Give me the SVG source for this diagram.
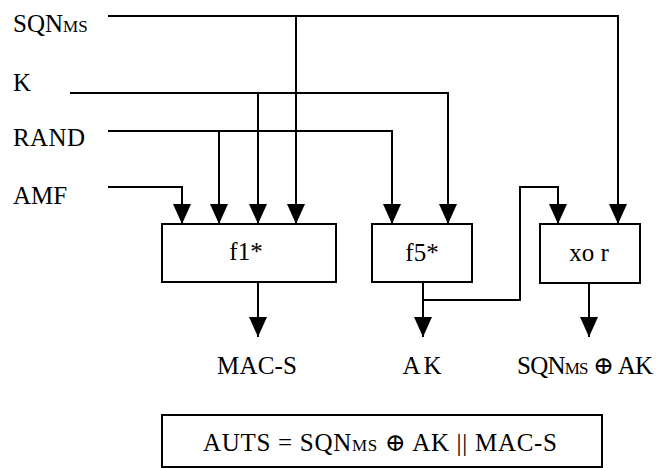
<svg xmlns="http://www.w3.org/2000/svg" width="663" height="468" viewBox="0 0 663 468">
<style>
text{font-family:"Liberation Serif","DejaVu Serif",serif;font-size:25px;fill:#000}
.sub{font-size:17px}
.box{fill:#fff;stroke:#000;stroke-width:2}
.ln{fill:none;stroke:#000;stroke-width:2}
</style>
<defs>
<marker id="ah" viewBox="0 0 20 18" refX="20" refY="9" markerWidth="20" markerHeight="18" markerUnits="userSpaceOnUse" orient="auto">
<path d="M0,0 L20,9 L0,18 z" fill="#000"/>
</marker>
</defs>
<rect width="663" height="468" fill="#fff"/>
<g id="connectors" class="ln" marker-end="url(#ah)">
<path d="M108,16 H618 V224"/>
<path d="M296,16 V224"/>
<path d="M70,93 H448 V224"/>
<path d="M258,93 V224"/>
<path d="M108,131 H392 V224"/>
<path d="M219,131 V224"/>
<path d="M108,187 H182 V224"/>
<path d="M258,283 V337"/>
<path d="M423,283 V337"/>
<path d="M423,300 H520 V187 H558 V224"/>
<path d="M589,283 V337"/>
</g>
<g id="in-sqn"><text x="13" y="32">SQN<tspan class="sub">MS</tspan></text></g>
<g id="in-k"><text x="13" y="91">K</text></g>
<g id="in-rand"><text x="13" y="146" textLength="72">RAND</text></g>
<g id="in-amf"><text x="13" y="204">AMF</text></g>
<g id="f1"><rect class="box" x="162" y="224" width="174" height="58"/><text x="246" y="260" text-anchor="middle" font-size="24">f1*</text></g>
<g id="f5"><rect class="box" x="372" y="224" width="100" height="58"/><text x="422" y="261" text-anchor="middle" font-size="24">f5*</text></g>
<g id="xor"><rect class="box" x="540" y="224" width="100" height="59"/><text x="589" y="261" text-anchor="middle" font-size="24">xo r</text></g>
<g id="out-macs"><text x="257" y="374" text-anchor="middle" textLength="80">MAC-S</text></g>
<g id="out-ak"><text x="422" y="374" text-anchor="middle" textLength="39">AK</text></g>
<g id="out-sqnak"><text x="585" y="374" text-anchor="middle" textLength="136">SQN<tspan class="sub">MS</tspan> ⊕ AK</text></g>
<g id="auts"><rect class="box" x="162" y="415" width="440" height="52"/><text x="380" y="451" text-anchor="middle" textLength="354">AUTS = SQN<tspan class="sub">MS</tspan> ⊕ AK || MAC-S</text></g>
</svg>
